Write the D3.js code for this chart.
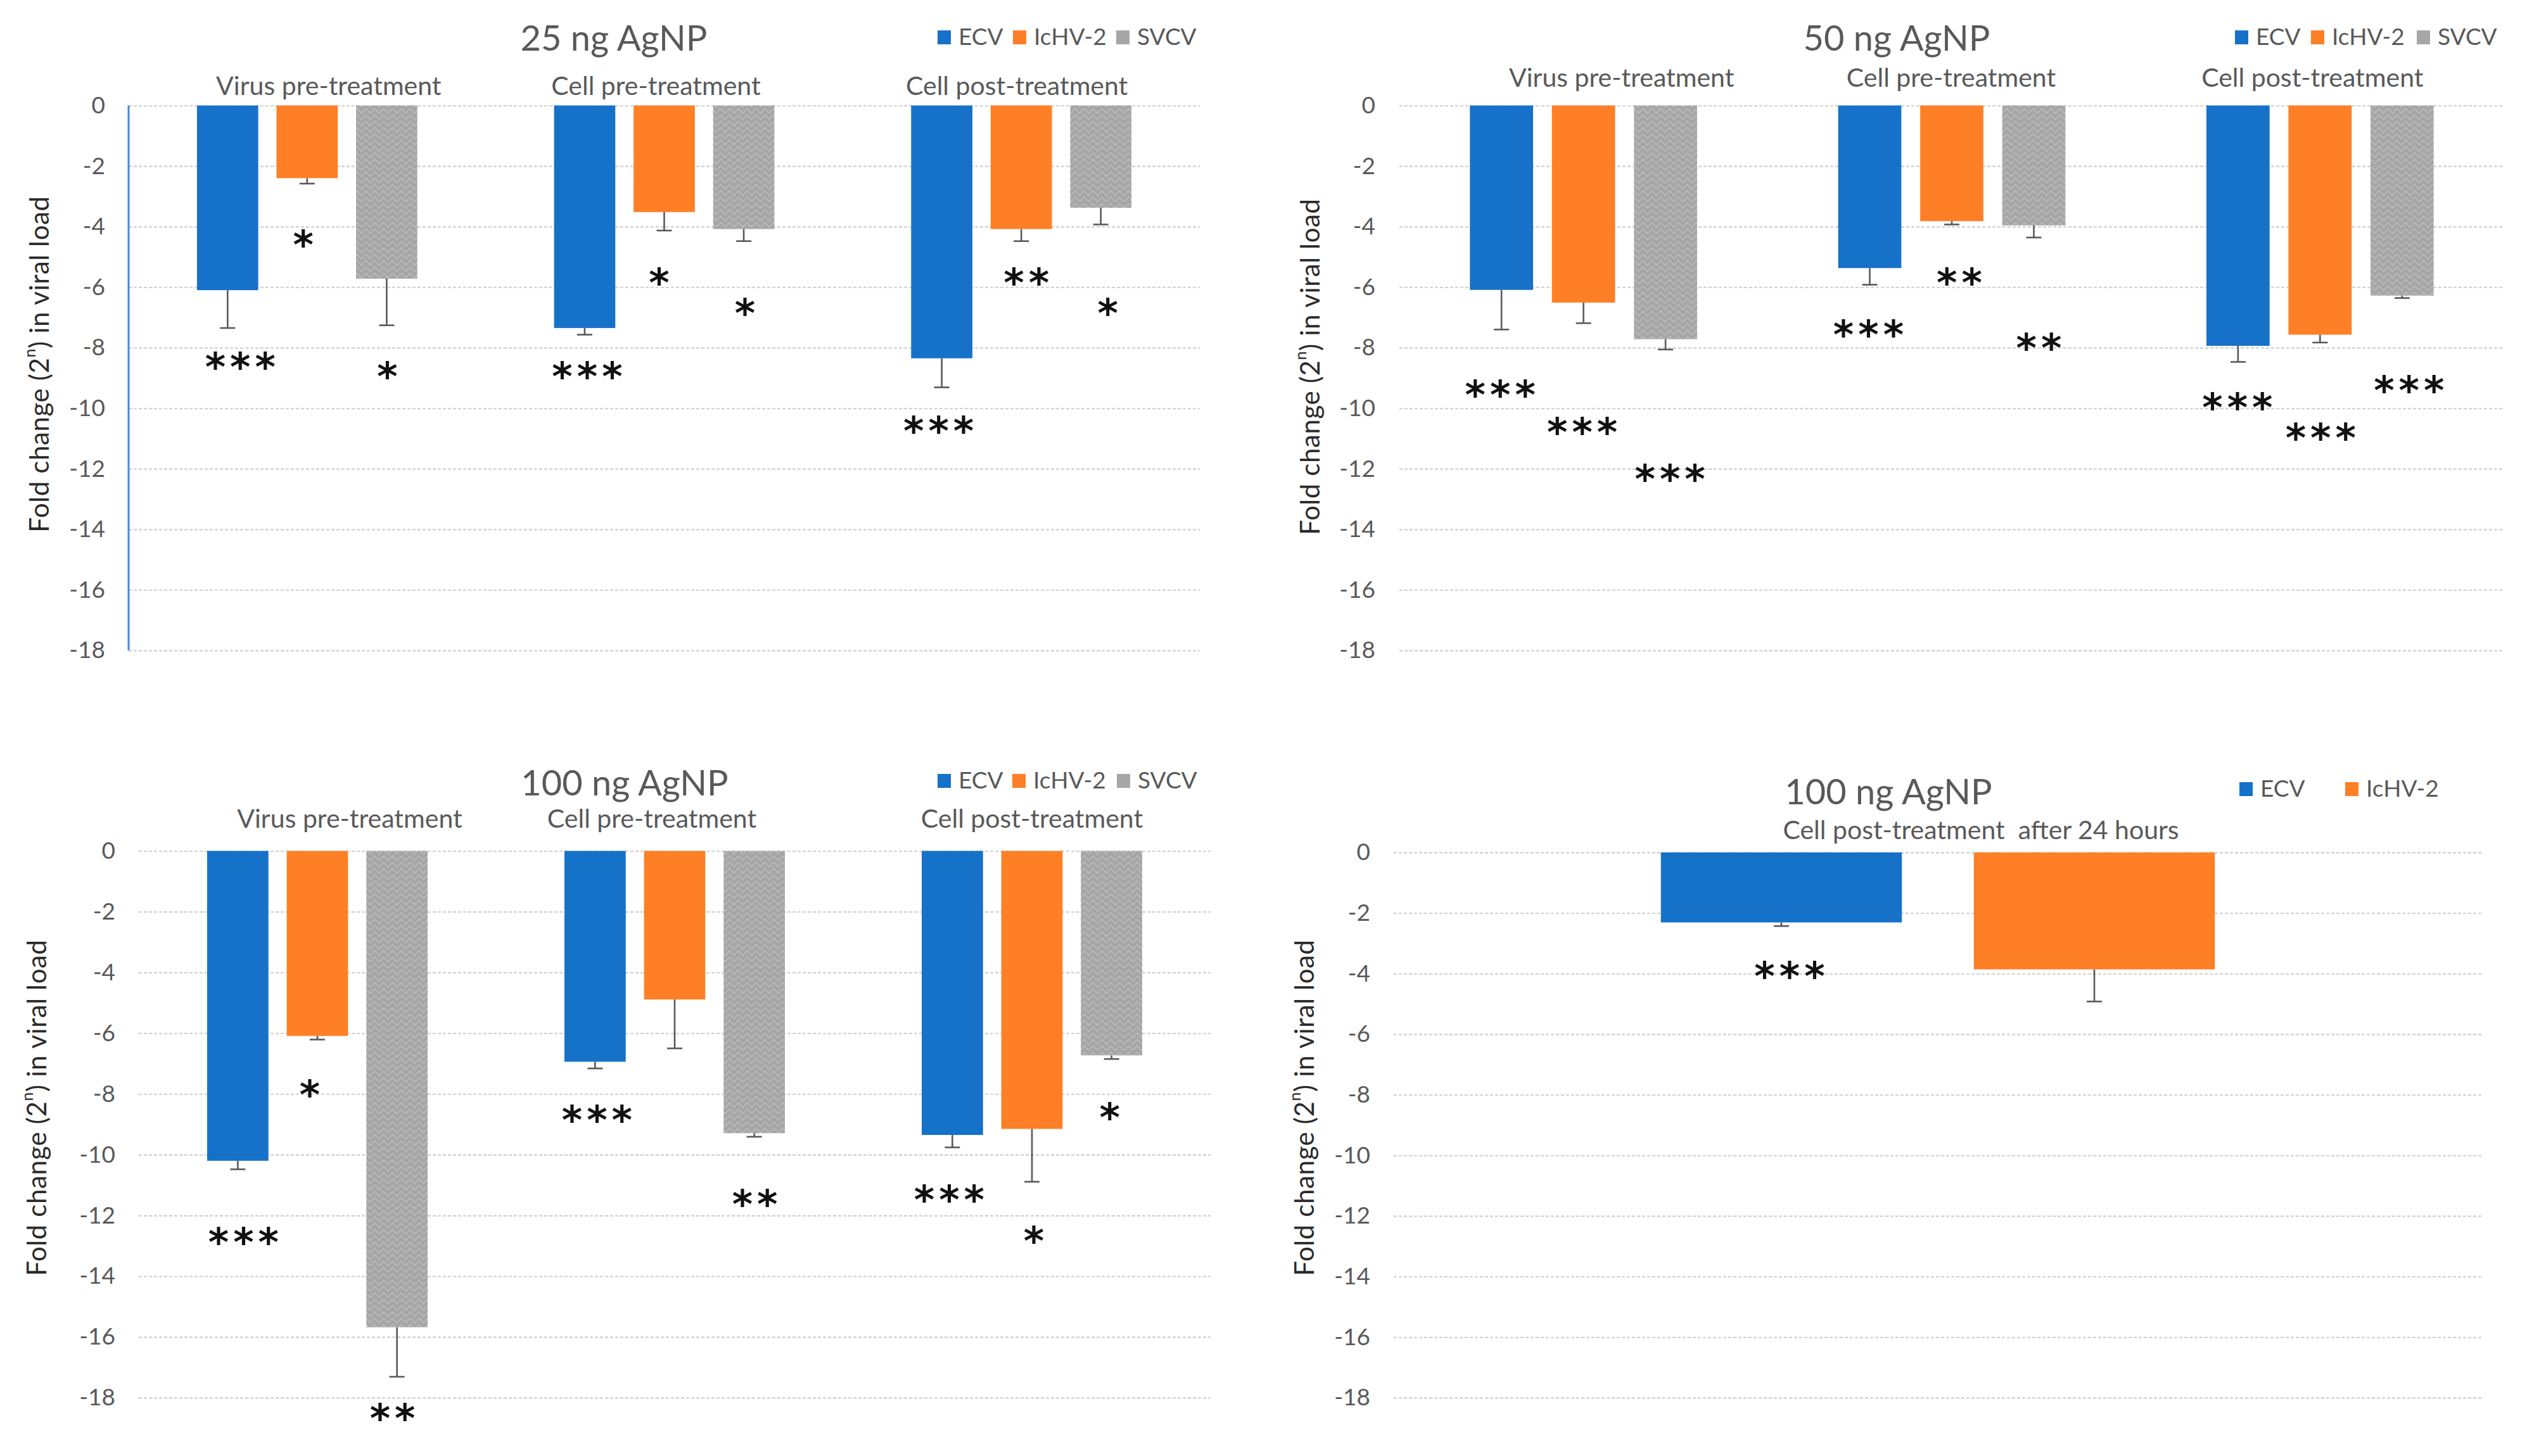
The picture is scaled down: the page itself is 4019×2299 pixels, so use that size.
<!DOCTYPE html>
<html><head><meta charset="utf-8">
<script src="https://cdn.jsdelivr.net/npm/d3@7"></script>
<style>body{margin:0;background:#fff}svg{display:block}text{white-space:pre}</style>
</head><body>
<svg id="chart" width="4019" height="2299"></svg>
<script>
// ---------------- DATA ----------------
const groups = ["Virus pre-treatment", "Cell pre-treatment", "Cell post-treatment"];
const series3 = ["ECV", "IcHV-2", "SVCV"];
const series2 = ["ECV", "IcHV-2"];
const groups24h = ["Cell post-treatment  after 24 hours"];
const yTicks = [0, -2, -4, -6, -8, -10, -12, -14, -16, -18];
const yTickLabels = ["0", "-2", "-4", "-6", "-8", "-10", "-12", "-14", "-16", "-18"];

// 25 ng AgNP  (rows = groups, cols = ECV, IcHV-2, SVCV)
const ng25Means = [[-6.1, -2.4, -5.72], [-7.35, -3.52, -4.08], [-8.35, -4.08, -3.38]];
const ng25Errs  = [[1.25, 0.18, 1.54], [0.22, 0.61, 0.40], [0.96, 0.40, 0.55]];
const ng25Stars = [["***", "*", "*"], ["***", "*", "*"], ["***", "**", "*"]];
const ng25StarLevels = [[-8.36, -4.31, -8.67], [-8.67, -5.58, -6.57], [-10.47, -5.58, -6.57]];

// 50 ng AgNP
const ng50Means = [[-6.09, -6.51, -7.72], [-5.37, -3.82, -3.96], [-7.94, -7.57, -6.28]];
const ng50Errs  = [[1.31, 0.68, 0.34], [0.55, 0.11, 0.40], [0.53, 0.26, 0.08]];
const ng50Stars = [["***", "***", "***"], ["***", "**", "**"], ["***", "***", "***"]];
const ng50StarLevels = [[-9.28, -10.5, -12.06], [-7.29, -5.58, -7.72], [-9.69, -10.7, -9.13]];

// 100 ng AgNP
const ng100Means = [[-10.2, -6.09, -15.68], [-6.94, -4.89, -9.29], [-9.35, -9.15, -6.73]];
const ng100Errs  = [[0.28, 0.12, 1.63], [0.22, 1.61, 0.12], [0.41, 1.74, 0.12]];
const ng100Stars = [["***", "*", "**"], ["***", "", "**"], ["***", "*", "*"]];
const ng100StarLevels = [[-12.6, -7.74, -18.4], [-8.57, null, -11.34], [-11.2, -12.56, -8.5]];

// 100 ng AgNP, cell post-treatment after 24 hours
const h24Means = [[-2.31, -3.86]];
const h24Errs  = [[0.12, 1.06]];
const h24Stars = [["***", ""]];
const h24StarLevels = [[-3.8, null]];

// ---------------- STYLE / LAYOUT ----------------
const colors = {"ECV": "#1671C9", "IcHV-2": "#FE7F25", "SVCV": "url(#zig)"};
const legendColors = {"ECV": "#1671C9", "IcHV-2": "#FE7F25", "SVCV": "#A6A6A6"};
const labelFont = "Lato, 'Open Sans', sans-serif";
const textGray = "#595959";
const starSpacing = 7;

const panels = [
  {title: "25 ng AgNP", groups: groups, series: series3, means: ng25Means, errs: ng25Errs, stars: ng25Stars, starLv: ng25StarLevels,
   starDx: [[20, -6, 1], [4, -8, 2], [-5, 8, 11]],
   x0: 203, x1: 1894, y0: 166.6, y1: 1027, titleX: 969, titleY: 80, groupY: 150, groupDx: [34, -13, -7],
   tickX: 166, axisTitleX: 61, axisTitleY: 575, legendX: [1480, 1599, 1762], legendY: 71, axisLine: true, clusterPad: 0.383},
  {title: "50 ng AgNP", groups: groups, series: series3, means: ng50Means, errs: ng50Errs, stars: ng50Stars, starLv: ng50StarLevels,
   starDx: [[-2, -2, 7], [-2, 12, 8], [-1, 1, 11]],
   x0: 2209, x1: 3953, y0: 166.6, y1: 1027, titleX: 2994, titleY: 80, groupY: 137, groupDx: [60, -1, -12],
   tickX: 2171, axisTitleX: 2067, axisTitleY: 579, legendX: [3528, 3648, 3815], legendY: 71, axisLine: false, clusterPad: 0.383},
  {title: "100 ng AgNP", groups: groups, series: series3, means: ng100Means, errs: ng100Errs, stars: ng100Stars, starLv: ng100StarLevels,
   starDx: [[9, -12, -7], [3, 0, 1], [-5, 3, -3]],
   x0: 219, x1: 1911, y0: 1343.6, y1: 2207, titleX: 986, titleY: 1256, groupY: 1307, groupDx: [51, -36, 0],
   tickX: 182, axisTitleX: 57, axisTitleY: 1749, legendX: [1480, 1598, 1763], legendY: 1245, axisLine: false, clusterPad: 0.383},
  {title: "100 ng AgNP", groups: groups24h, series: series2, means: h24Means, errs: h24Errs, stars: h24Stars, starLv: h24StarLevels,
   starDx: [[13, 0]],
   x0: 2200, x1: 3918, y0: 1346, y1: 2207, titleX: 2981, titleY: 1270, groupY: 1325, groupDx: [68],
   tickX: 2163, axisTitleX: 2058, axisTitleY: 1749, legendX: [3535, 3702], legendY: 1258, axisLine: false, clusterPad: 0.491}
];

const svg = d3.select("#chart");
const defs = svg.append("defs");
const pat = defs.append("pattern").attr("id", "zig").attr("patternUnits", "userSpaceOnUse")
  .attr("width", 14).attr("height", 10);
pat.append("rect").attr("width", 14).attr("height", 10).attr("fill", "#A6A6A6");
pat.append("path").attr("d", "M0,5 L3.5,1.5 L7,5 L10.5,8.5 L14,5").attr("fill", "none")
  .attr("stroke", "#BDBDBD").attr("stroke-width", 1.6);

panels.forEach(p => {
  const g = svg.append("g");
  const y = d3.scaleLinear().domain([0, -18]).range([p.y0, p.y1]);
  const x = d3.scaleBand().domain(p.groups).range([p.x0, p.x1])
    .paddingInner(p.clusterPad).paddingOuter(p.clusterPad / 2);
  const xs = d3.scaleBand().domain(p.series).range([0, x.bandwidth()]).paddingInner(0.23).paddingOuter(0);

  // gridlines
  const grid = g.append("g").attr("transform", `translate(${p.x0},0)`)
    .call(d3.axisLeft(y).tickValues(yTicks).tickSize(-(p.x1 - p.x0)).tickFormat(""));
  grid.select(".domain").remove();
  grid.selectAll(".tick line").attr("stroke", "#D4D4D4").attr("stroke-width", 2.4).attr("stroke-dasharray", "5,3");

  // tick labels
  const ax = g.append("g").attr("transform", `translate(${p.x0},0)`)
    .call(d3.axisLeft(y).tickValues(yTicks).tickSize(0).tickPadding(p.x0 - p.tickX)
      .tickFormat((d, i) => yTickLabels[i]));
  ax.select(".domain").remove();
  ax.selectAll(".tick text").attr("font-family", labelFont).attr("font-size", 37).attr("fill", textGray);

  if (p.axisLine) {
    g.append("line").attr("x1", p.x0).attr("x2", p.x0).attr("y1", y(0)).attr("y2", y(-18))
      .attr("stroke", "#4A86D8").attr("stroke-width", 3);
  }

  // bars
  p.groups.forEach((grp, gi) => {
    const gx = x(grp);
    p.series.forEach((s, si) => {
      const v = p.means[gi][si];
      const bx = gx + xs(s);
      const bw = xs.bandwidth();
      g.append("rect").attr("x", bx).attr("y", y(0)).attr("width", bw).attr("height", y(v) - y(0))
        .attr("fill", colors[s]);
      const cx = bx + bw / 2;
      const e = p.errs[gi][si];
      g.append("line").attr("x1", cx).attr("x2", cx).attr("y1", y(v)).attr("y2", y(v - e))
        .attr("stroke", "#595959").attr("stroke-width", 2.6);
      g.append("line").attr("x1", cx - 12).attr("x2", cx + 12).attr("y1", y(v - e)).attr("y2", y(v - e))
        .attr("stroke", "#595959").attr("stroke-width", 2.6);
      const st = p.stars[gi][si];
      if (st) {
        g.append("text").attr("x", cx + p.starDx[gi][si] + starSpacing / 2).attr("y", y(p.starLv[gi][si]) + 35)
          .attr("text-anchor", "middle").attr("font-family", "'DejaVu Sans', sans-serif")
          .attr("font-weight", "bold").attr("font-size", 62).attr("letter-spacing", starSpacing)
          .attr("fill", "#111").text(st);
      }
    });
    g.append("text").attr("x", gx + x.bandwidth() / 2 + p.groupDx[gi]).attr("y", p.groupY)
      .attr("text-anchor", "middle").attr("font-family", labelFont).attr("font-size", 41)
      .attr("fill", textGray).text(grp);
  });

  // title
  g.append("text").attr("x", p.titleX).attr("y", p.titleY).attr("text-anchor", "middle")
    .attr("font-family", labelFont).attr("font-size", 56).attr("fill", textGray).text(p.title);

  // legend
  p.series.forEach((s, si) => {
    const lx = p.legendX[si];
    g.append("rect").attr("x", lx).attr("y", p.legendY - 23).attr("width", 21).attr("height", 22)
      .attr("fill", legendColors[s]);
    g.append("text").attr("x", lx + 33).attr("y", p.legendY).attr("font-family", labelFont)
      .attr("font-size", 37).attr("fill", textGray).text(s);
  });

  // y-axis title
  const t = g.append("text").attr("transform", `translate(${p.axisTitleX},${p.axisTitleY}) rotate(-90)`)
    .attr("text-anchor", "middle").attr("dominant-baseline", "central")
    .attr("font-family", labelFont).attr("font-size", 42).attr("letter-spacing", 0.6).attr("fill", "#2b2b2b");
  t.append("tspan").text("Fold change (2");
  t.append("tspan").attr("font-size", 25).attr("dy", -15).text("n");
  t.append("tspan").attr("dy", 15).text(") in viral load");
});
</script>
</body></html>
